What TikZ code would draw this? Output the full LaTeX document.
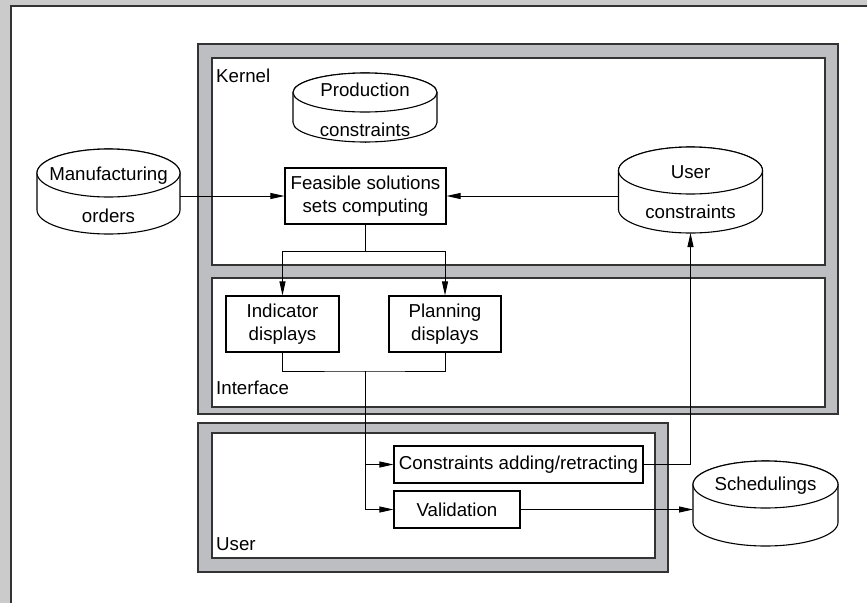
\documentclass[tikz,border=0pt]{standalone}
\usepackage{fontspec}
\setmainfont{Liberation Sans}
\usetikzlibrary{arrows.meta}
\definecolor{bggray}{HTML}{CBCBCB}
\definecolor{framegray}{HTML}{BDBEC1}
\definecolor{edgecol}{HTML}{333333}
\newcommand{\dbcyl}[6]{% name, cx, ytop, ybot, rx, ry (pixel values, y downward)
  \node[inner sep=0pt, outer sep=0pt, minimum width={2*#5*1pt}, minimum height={(#4-#3)*1pt}] (#1) at (#2,{-(#3+#4)/2}) {};
  \draw[cylbody] (#2-#5,-#3-#6) -- (#2-#5,-#4+#6)
     arc[start angle=180, end angle=360, x radius=#5pt, y radius=#6pt]
     -- (#2+#5,-#3-#6)
     arc[start angle=0, end angle=180, x radius=#5pt, y radius=#6pt] -- cycle;
  \draw[cylbody] (#2,-#3-#6) ellipse[x radius=#5pt, y radius=#6pt];
}
\begin{document}
\begin{tikzpicture}[x=1pt,y=1pt,
  fnt/.style={font=\fontsize{18.7}{23}\selectfont},
  txt/.style={fnt, inner sep=0pt, anchor=base},
  lbl/.style={fnt, inner sep=0pt, anchor=base west},
  boxnode/.style={fnt, draw=black, line width=1.1pt, fill=white, align=center, inner sep=0pt, anchor=center},
  conn/.style={line width=0.9pt, draw=black},
  arr/.style={conn, -{Triangle[length=14pt,width=6pt]}},
  frameouter/.style={fill=framegray, draw=edgecol, line width=1.6pt, anchor=north west, inner sep=0pt},
  frameinner/.style={fill=white, draw=edgecol, line width=1.6pt, anchor=north west, inner sep=0pt},
  cylbody/.style={draw=black, line width=1.1pt, fill=white}
]
\useasboundingbox (0,0) rectangle (867,-603);
\fill[bggray] (0,0) rectangle (867,-603);
\fill[white] (11,-6) rectangle (867,-603);
\draw[edgecol, line width=1.5pt] (11,-603) -- (11,-6) -- (867,-6);

% frames
\node[frameouter, minimum width=640pt, minimum height=370pt] (mainframe) at (197,-43) {};
\node[frameinner, minimum width=613pt, minimum height=207pt] (kernel) at (211,-57) {};
\node[frameinner, minimum width=613pt, minimum height=129pt] (interface) at (211,-277) {};
\node[frameouter, minimum width=470pt, minimum height=149pt] (userframe) at (197,-422) {};
\node[frameinner, minimum width=443pt, minimum height=125pt] (userarea) at (211,-432) {};

\node[lbl] (kernellbl) at (216,-82) {Kernel};
\node[lbl] (interfacelbl) at (216,-394) {Interface};
\node[lbl] (userlbl) at (216,-550) {User};

% cylinders
\dbcyl{manu}{108.5}{149}{234}{71.5}{24}
\node[txt] (manu1) at (108.5,-180.5) {Manufacturing};
\node[txt] (manu2) at (108.5,-222) {orders};

\dbcyl{prod}{365}{73}{142}{72}{19.5}
\node[txt] (prod1) at (365,-96) {Production};
\node[txt] (prod2) at (365,-136) {constraints};

\dbcyl{user}{690.5}{147}{233}{72}{23.5}
\node[txt] (user1) at (690.5,-178) {User};
\node[txt] (user2) at (690.5,-218) {constraints};

\dbcyl{sched}{765.5}{461}{546}{72.5}{23.5}
\node[txt] (sched1) at (765.5,-490) {Schedulings};

% boxes
\node[boxnode, minimum width=161pt, minimum height=56pt] (feas) at (365.5,-196) {Feasible solutions\\sets computing};
\node[boxnode, minimum width=113pt, minimum height=56pt] (ind) at (282.5,-324) {Indicator\\displays};
\node[boxnode, minimum width=112pt, minimum height=56pt] (plan) at (445,-324) {Planning\\displays};
\node[boxnode, minimum width=249pt, minimum height=37pt] (constr) at (518.5,-464.5) {Constraints adding/retracting};
\node[boxnode, minimum width=126pt, minimum height=37pt] (valid) at (457,-509.5) {Validation};

% connectors
\draw[conn] (prod.south) -- (prod.south -| feas.north);
\draw[arr] (manu.east |- feas.west) -- (feas.west);
\draw[arr] (user.west |- feas.east) -- (feas.east);
\coordinate (split) at (365.5,-251);
\draw[conn] (feas.south) -- (split);
\draw[arr] (split) -| (ind.north);
\draw[arr] (split) -| (plan.north);
\coordinate (join) at (365.5,-371);
\draw[conn] (ind.south) |- (join) -| (plan.south);
\draw[arr] (join) |- (constr.west);
\draw[arr] (join) |- (valid.west);
\draw[arr] (constr.east) -| (user.south);
\draw[arr] (valid.east) -- (valid.east -| sched.west);
\end{tikzpicture}
\end{document}
